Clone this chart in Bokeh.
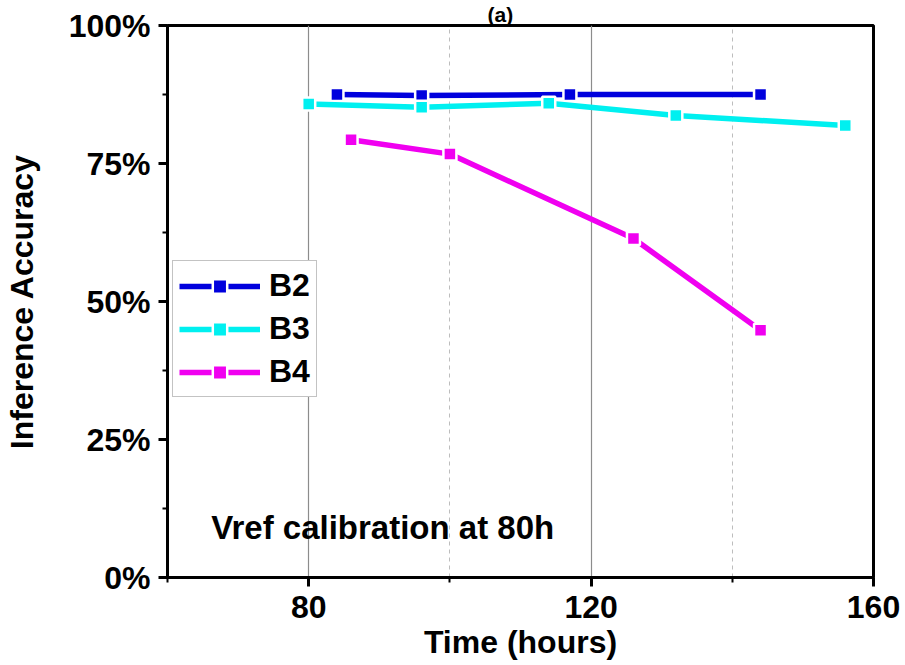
from bokeh.plotting import figure
from bokeh.models import (Range1d, FixedTicker, Legend, LegendItem, Label)
from bokeh.embed import file_html
from bokeh.resources import INLINE

# ---- data ----
b2_time = [84, 96, 117, 144]
b2_acc = [87.5, 87.3, 87.5, 87.5]

b3_time = [80, 96, 114, 132, 156]
b3_acc = [85.8, 85.2, 85.9, 83.7, 81.9]

b4_time = [86, 100, 126, 144]
b4_acc = [79.3, 76.7, 61.4, 44.8]

x_major = [80, 120, 160]
x_minor = [60, 100, 140]
y_major = [0, 25, 50, 75, 100]
y_minor = [12.5, 37.5, 62.5, 87.5]
y_labels = {0: "0%", 25: "25%", 50: "50%", 75: "75%", 100: "100%"}

series = [
    ("B2", b2_time, b2_acc, "#0000dd"),
    ("B3", b3_time, b3_acc, "#00f0f0"),
    ("B4", b4_time, b4_acc, "#f000f0"),
]

FONT = "Liberation Sans"

p = figure(width=905, height=665, output_backend="svg", toolbar_location=None,
           x_range=Range1d(60, 160), y_range=Range1d(0, 100),
           min_border_left=166, min_border_right=32, min_border_top=24,
           min_border_bottom=88, title="(a)")

p.title.align = "left"
p.title.text_font = FONT
p.title.text_font_style = "bold"
p.title.text_font_size = "21px"
p.title.text_color = "black"
p.title.standoff = 0
p.title.offset = 320

p.background_fill_color = "white"
p.border_fill_color = "white"
p.outline_line_color = "black"
p.outline_line_width = 3

# axes
p.xaxis.ticker = FixedTicker(ticks=x_major, minor_ticks=x_minor)
p.yaxis.ticker = FixedTicker(ticks=y_major, minor_ticks=y_minor)
p.yaxis.major_label_overrides = y_labels

for ax in (p.xaxis[0], p.yaxis[0]):
    ax.axis_line_width = 3
    ax.axis_line_color = "black"
    ax.major_tick_line_width = 3
    ax.minor_tick_line_width = 2
    ax.major_tick_in = 0
    ax.major_tick_out = 9
    ax.minor_tick_in = 0
    ax.minor_tick_out = 5
    ax.major_label_text_font = FONT
    ax.major_label_text_font_style = "bold"
    ax.major_label_text_font_size = "32px"
    ax.major_label_text_color = "black"
    ax.axis_label_text_font = FONT
    ax.axis_label_text_font_style = "bold"
    ax.axis_label_text_font_size = "32px"
    ax.axis_label_text_color = "black"

p.xaxis.axis_label = "Time (hours)"
p.yaxis.axis_label = "Inference Accuracy"
p.xaxis.major_label_standoff = 9
p.yaxis.major_label_standoff = 8
p.xaxis.axis_label_standoff = 3
p.yaxis.axis_label_standoff = 26

# grid
p.ygrid.grid_line_color = None
p.xgrid.grid_line_color = "#8c8c8c"
p.xgrid.grid_line_width = 1.2
p.xgrid.minor_grid_line_color = "#bdbdbd"
p.xgrid.minor_grid_line_dash = "4 4"
p.xgrid.minor_grid_line_width = 1

items = []
for name, xs, ys, col in series:
    ln = p.line(xs, ys, line_color=col, line_width=5.5)
    sc = p.scatter(xs, ys, marker="square", size=13, fill_color=col,
                   line_color="white", line_width=2.5)
    items.append(LegendItem(label=name, renderers=[ln, sc]))

legend = Legend(items=items, location=(5, 180))
legend.label_text_font = FONT
legend.label_text_font_style = "bold"
legend.label_text_font_size = "32px"
legend.label_text_color = "black"
legend.glyph_width = 81
legend.glyph_height = 36
legend.label_height = 36
legend.spacing = 6
legend.padding = 6
legend.margin = 0
legend.label_standoff = 9
legend.border_line_color = "#888888"
legend.border_line_width = 1.2
legend.background_fill_color = "white"
legend.background_fill_alpha = 1
p.add_layout(legend, "center")

note = Label(x=66.2, y=9.0, text="Vref calibration at 80h",
             text_font=FONT, text_font_style="bold", text_font_size="33px",
             text_color="black", text_baseline="alphabetic", text_align="left")
p.add_layout(note)

open("out.html", "w").write(file_html(p, INLINE))
